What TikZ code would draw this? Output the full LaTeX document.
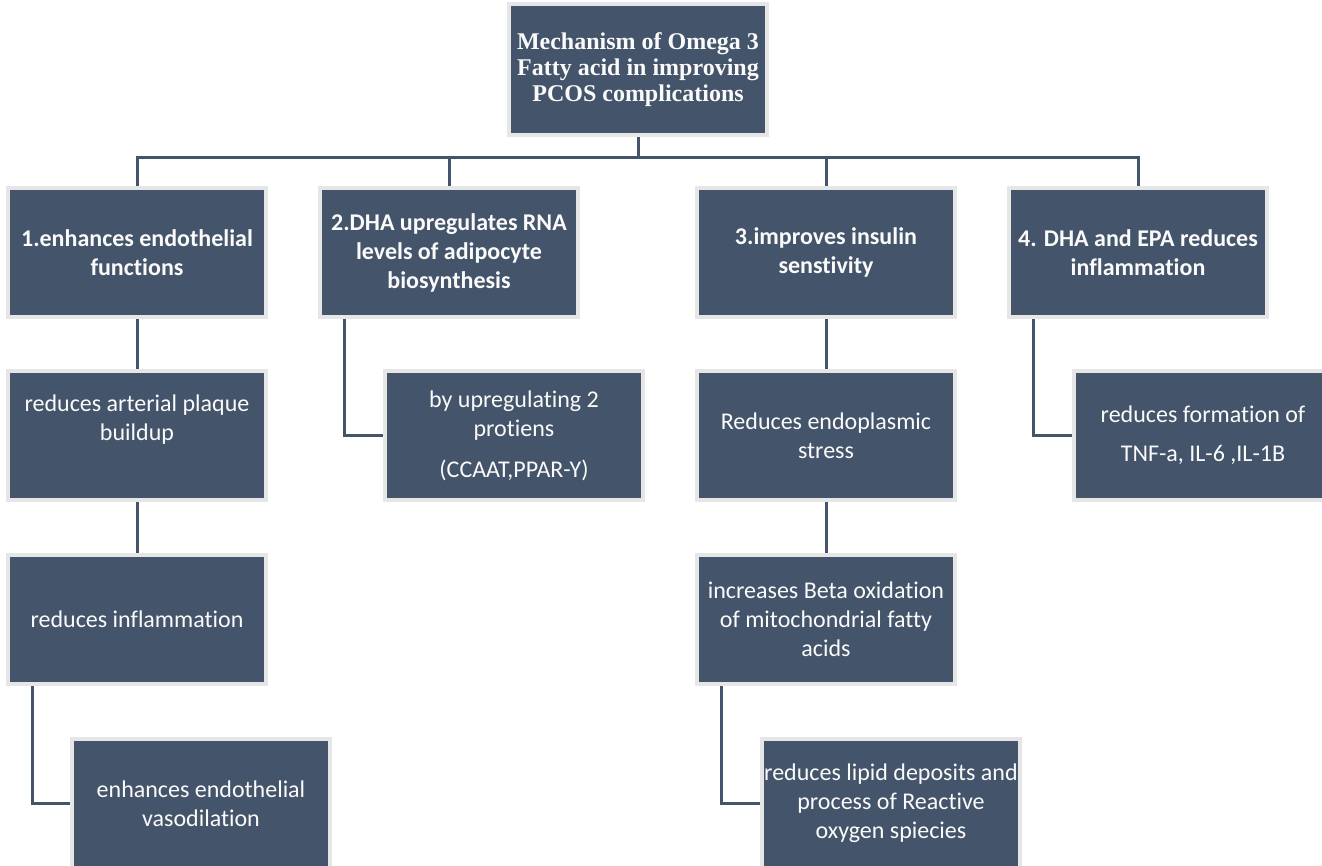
\documentclass[tikz,border=0pt]{standalone}
\usepackage{fontspec}
\setmainfont{Carlito}[Ligatures=NoCommon]
\newfontfamily\rootfont{Liberation Serif}
\usetikzlibrary{backgrounds}
\definecolor{slate}{HTML}{44546A}
\definecolor{rim}{HTML}{E7E6E6}
\definecolor{txt}{HTML}{FAFAFA}
\tikzset{
  boxnode/.style={draw=rim, fill=slate, line width=4pt, minimum width=258pt,
    minimum height=129pt, inner sep=0pt, align=center, text=txt,
    font=\fontsize{24}{29}\selectfont},
  headbox/.style={boxnode, font=\fontsize{24}{29}\selectfont\bfseries},
  rootbox/.style={boxnode, minimum height=131pt, font=\rootfont\fontsize{24}{26}\selectfont\bfseries},
  link/.style={draw=slate, line width=3pt}
}
\begin{document}
\begin{tikzpicture}[x=1pt,y=-1pt]
\path[use as bounding box, clip] (0,0) rectangle (1322,865);
\node[rootbox] (root) at (638,69.5) {Mechanism of Omega 3\\Fatty acid in improving\\PCOS complications};
\node[headbox] (b1) at (137,252.5) {1.enhances endothelial\\functions};
\node[headbox] (b2) at (449,252.5) {2.DHA upregulates RNA\\levels of adipocyte\\biosynthesis};
\node[headbox] (b3) at (826,252.5) {3.improves insulin\\senstivity};
\node[headbox] (b4) at (1138,252.5) {4. DHA and EPA reduces\\inflammation};
\node[boxnode] (b1a) at (137,435.5) {reduces arterial plaque\\buildup\\[6pt]\mbox{}};
\node[boxnode] (b1b) at (137,619.5) {reduces inflammation};
\node[boxnode] (b1c) at (201,803.5) {enhances endothelial\\vasodilation};
\node[boxnode] (b2a) at (514,435.5) {by upregulating 2\\protiens\\[12pt](CCAAT,PPAR-Y)};
\node[boxnode] (b3a) at (826,435.5) {Reduces endoplasmic\\stress};
\node[boxnode] (b3b) at (826,619.5) {increases Beta oxidation\\of mitochondrial fatty\\acids};
\node[boxnode] (b3c) at (891,803.5) {reduces lipid deposits and\\process of Reactive\\oxygen spiecies};
\node[boxnode] (b4a) at (1203,435.5) {reduces formation of\\[10pt]TNF-a, IL-6 ,IL-1B};
\coordinate (bus) at (638,157);
\begin{scope}[on background layer]
\fill[white] (0,0) rectangle (1322,865);
\draw[link] (root.south) -- (root |- bus);
\draw[link] (b1.north) -- (b1 |- bus) -- (b4 |- bus) -- (b4.north);
\draw[link] (b2.north) -- (b2 |- bus);
\draw[link] (b3.north) -- (b3 |- bus);
\draw[link] (b1.south) -- (b1a.north);
\draw[link] (b1a.south) -- (b1b.north);
\draw[link] ([xshift=26pt]b1b.south west) |- (b1c.west);
\draw[link] ([xshift=26pt]b2.south west) |- (b2a.west);
\draw[link] (b3.south) -- (b3a.north);
\draw[link] (b3a.south) -- (b3b.north);
\draw[link] ([xshift=26pt]b3b.south west) |- (b3c.west);
\draw[link] ([xshift=26pt]b4.south west) |- (b4a.west);
\end{scope}
\end{tikzpicture}
\end{document}
